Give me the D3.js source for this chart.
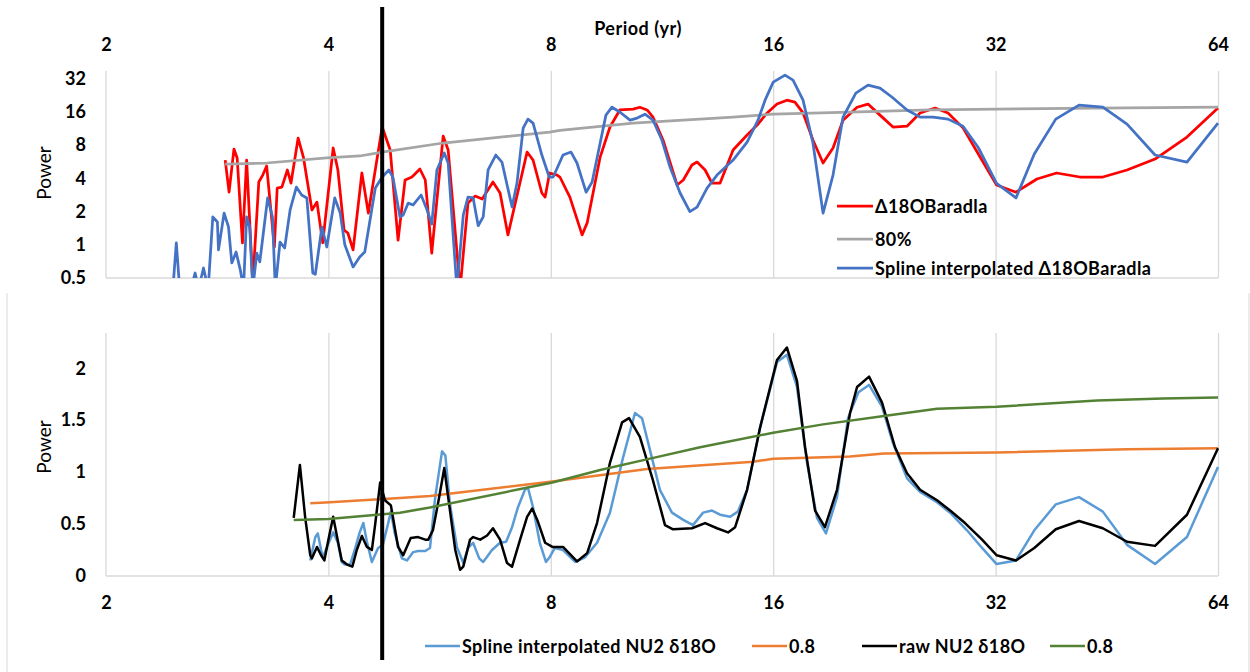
<!DOCTYPE html>
<html>
<head>
<meta charset="utf-8">
<script src="https://cdn.jsdelivr.net/npm/d3@7"></script>
<style>
  body { margin: 0; background: #fff; }
  svg text { font-family: Lato, "Liberation Sans", sans-serif; fill: #000; }
</style>
</head>
<body>
<svg id="chart" width="1250" height="672"></svg>
<script>
// ── Axis ticks ───────────────────────────────────────
const periodTicks = [2, 4, 8, 16, 32, 64];
const topPowerTicks = [0.5, 1, 2, 4, 8, 16, 32];
const bottomPowerTicks = [0, 0.5, 1, 1.5, 2];
const markerPeriod = 4.73;

// ── Top panel: [period (yr), power] ──────────────────
const baradla = [[2.90,5.87],[2.935,3.01],[2.98,7.39],[3.01,6.13],[3.06,1.04],[3.10,5.87],[3.16,0.45],[3.22,3.71],[3.26,4.29],[3.30,5.18],[3.38,0.955],[3.41,3.27],[3.46,3.34],[3.52,4.77],[3.56,3.63],[3.64,9.30],[3.70,6.25],[3.80,2.07],[3.86,2.44],[3.93,1.04],[4.06,7.55],[4.12,4.77],[4.20,1.36],[4.25,1.28],[4.32,0.90],[4.44,4.48],[4.53,1.94],[4.73,11.7],[4.85,7.24],[4.97,1.10],[5.08,3.87],[5.19,4.12],[5.32,4.87],[5.41,3.87],[5.52,0.84],[5.72,9.69],[5.81,7.24],[6.03,0.40],[6.18,2.39],[6.32,2.77],[6.46,2.60],[6.68,3.71],[6.83,2.95],[7.00,1.23],[7.43,6.94],[7.57,5.87],[7.78,2.95],[7.86,2.71],[7.97,4.48],[8.16,4.29],[8.23,4.12],[8.49,2.71],[8.82,1.23],[8.96,1.58],[9.33,6.25],[9.62,11.7],[9.92,16.7],[10.34,17.0],[10.56,17.7],[10.80,16.7],[11.00,14.4],[11.35,8.92],[11.86,3.49],[12.09,3.87],[12.42,5.29],[12.62,5.63],[12.94,4.77],[13.22,3.63],[13.56,3.63],[14.12,7.24],[14.75,9.90],[15.22,12.2],[15.70,15.7],[16.19,18.9],[16.70,20.5],[17.12,19.7],[17.56,15.7],[18.11,8.92],[18.69,5.52],[19.28,7.55],[19.89,13.5],[20.78,17.7],[21.50,18.9],[22.32,15.0],[23.24,11.7],[24.28,11.9],[25.29,15.7],[26.50,17.4],[27.59,15.7],[28.91,11.5],[30.49,6.25],[32.1,3.49],[34.1,3.0],[36.4,3.95],[38.7,4.48],[41.6,4.12],[44.7,4.12],[48.2,4.77],[52.6,6.0],[58.1,9.49],[64,17.4]];

const baradla80 = [[2.90,5.40],[3.30,5.52],[3.98,6.13],[4.41,6.39],[4.73,6.94],[5.72,8.38],[7.97,10.5],[8.23,10.9],[10.34,12.7],[14.12,14.4],[16.0,15.3],[20.33,16.0],[26.1,16.7],[32.1,17.0],[43.9,17.4],[64,17.7]];

const baradlaSpline = [[2.46,0.35],[2.49,1.04],[2.52,0.35],[2.58,0.3],[2.64,0.555],[2.67,0.4],[2.71,0.616],[2.75,0.4],[2.79,1.79],[2.83,1.61],[2.84,0.90],[2.89,1.94],[2.93,1.45],[2.96,0.684],[3.00,0.86],[3.04,0.59],[3.07,0.4],[3.10,1.79],[3.13,1.45],[3.16,0.4],[3.20,0.84],[3.23,0.70],[3.31,2.66],[3.36,1.79],[3.39,0.4],[3.44,1.06],[3.49,0.935],[3.55,2.07],[3.62,3.34],[3.68,2.83],[3.74,2.66],[3.81,0.555],[3.84,0.54],[3.92,1.45],[3.98,0.955],[4.08,2.66],[4.15,1.94],[4.21,1.0],[4.32,0.63],[4.41,0.775],[4.48,0.86],[4.63,3.27],[4.73,4.12],[4.83,4.77],[4.89,4.12],[5.00,1.79],[5.05,1.86],[5.13,2.39],[5.21,2.30],[5.34,2.83],[5.44,2.07],[5.52,1.54],[5.61,4.77],[5.74,6.80],[5.81,5.52],[5.97,0.4],[6.09,1.86],[6.18,2.71],[6.28,2.66],[6.38,1.49],[6.48,1.79],[6.58,4.77],[6.74,6.52],[6.87,5.63],[7.09,2.20],[7.20,3.63],[7.34,11.45],[7.45,13.8],[7.57,12.7],[7.78,6.52],[7.96,4.12],[8.06,4.12],[8.31,6.52],[8.52,6.94],[8.68,5.52],[8.93,3.0],[9.10,3.71],[9.33,8.38],[9.50,15.0],[9.68,17.7],[9.92,16.0],[10.24,13.5],[10.47,14.1],[10.73,15.3],[11.00,13.5],[11.31,8.92],[11.60,5.07],[11.97,2.95],[12.34,2.0],[12.62,2.20],[13.02,3.27],[13.43,4.29],[14.12,5.87],[14.75,8.55],[15.26,13.5],[15.60,20.5],[16.0,29.9],[16.60,34.6],[17.02,31.2],[17.56,20.5],[18.11,8.38],[18.69,1.94],[19.28,4.29],[19.89,14.4],[20.70,23.8],[21.50,28.1],[22.32,26.4],[23.16,21.9],[24.28,16.7],[25.29,14.4],[26.33,14.4],[27.59,13.8],[28.91,11.9],[30.30,7.67],[32.1,3.60],[34.1,2.66],[36.1,6.66],[38.6,13.8],[41.5,18.5],[44.7,17.7],[48.2,12.45],[52.6,6.52],[58.1,5.63],[64,12.7]];

// ── Bottom panel: [period (yr), power] ───────────────
const nu2Spline = [[3.78,0.15],[3.84,0.375],[3.87,0.41],[3.91,0.25],[3.93,0.18],[4.02,0.35],[4.06,0.42],[4.12,0.32],[4.17,0.135],[4.21,0.11],[4.28,0.11],[4.35,0.27],[4.41,0.42],[4.46,0.51],[4.51,0.33],[4.58,0.135],[4.67,0.27],[4.74,0.30],[4.82,0.51],[4.86,0.62],[4.92,0.41],[5.03,0.17],[5.11,0.15],[5.21,0.23],[5.29,0.24],[5.41,0.24],[5.49,0.27],[5.58,0.76],[5.70,1.20],[5.76,1.16],[5.84,0.70],[5.97,0.28],[6.09,0.125],[6.18,0.27],[6.28,0.32],[6.40,0.17],[6.48,0.135],[6.66,0.25],[6.83,0.32],[6.96,0.33],[7.09,0.47],[7.22,0.66],[7.38,0.83],[7.45,0.85],[7.57,0.66],[7.73,0.32],[7.88,0.135],[7.97,0.18],[8.10,0.27],[8.31,0.25],[8.63,0.135],[8.90,0.18],[9.24,0.32],[9.62,0.61],[10.02,1.14],[10.40,1.57],[10.63,1.52],[10.90,1.21],[11.24,0.83],[11.67,0.61],[12.09,0.54],[12.46,0.49],[12.86,0.61],[13.22,0.63],[13.56,0.59],[13.99,0.57],[14.33,0.62],[14.75,0.83],[15.36,1.43],[16.19,2.06],[16.70,2.13],[17.23,1.82],[17.78,1.09],[18.34,0.56],[18.86,0.41],[19.52,0.76],[20.20,1.52],[20.87,1.77],[21.57,1.84],[22.46,1.63],[23.24,1.28],[24.28,0.94],[25.29,0.81],[26.66,0.71],[27.77,0.61],[29.27,0.44],[30.68,0.27],[32.1,0.115],[34.1,0.15],[36.1,0.44],[38.6,0.69],[41.5,0.76],[44.7,0.62],[48.2,0.30],[52.6,0.115],[58.1,0.375],[64,1.05]];

const nu2SplineSig = [[3.78,0.70],[4.02,0.71],[5.0,0.75],[5.49,0.77],[8.04,0.91],[10.8,1.03],[15.04,1.10],[16.0,1.13],[20.33,1.15],[22.6,1.18],[32.1,1.19],[48.2,1.22],[64,1.23]];

const nu2Raw = [[3.59,0.56],[3.66,1.07],[3.72,0.57],[3.78,0.20],[3.80,0.17],[3.86,0.28],[3.91,0.20],[3.95,0.15],[4.00,0.35],[4.06,0.57],[4.11,0.375],[4.17,0.15],[4.24,0.11],[4.31,0.09],[4.37,0.25],[4.44,0.385],[4.51,0.28],[4.58,0.25],[4.63,0.51],[4.70,0.90],[4.77,0.73],[4.86,0.68],[4.97,0.28],[5.05,0.20],[5.17,0.365],[5.29,0.375],[5.41,0.35],[5.46,0.35],[5.54,0.44],[5.65,0.76],[5.74,1.04],[5.81,0.76],[5.94,0.25],[6.03,0.06],[6.09,0.09],[6.22,0.35],[6.28,0.375],[6.42,0.35],[6.56,0.39],[6.68,0.46],[6.83,0.35],[6.98,0.125],[7.09,0.09],[7.27,0.35],[7.43,0.57],[7.55,0.65],[7.67,0.54],[7.86,0.32],[8.04,0.28],[8.31,0.28],[8.68,0.14],[8.96,0.22],[9.24,0.51],[9.62,1.09],[9.99,1.48],[10.21,1.52],[10.56,1.34],[11.00,0.92],[11.42,0.49],[11.71,0.45],[12.42,0.46],[12.94,0.51],[13.43,0.46],[13.90,0.42],[14.21,0.47],[14.75,0.83],[15.36,1.43],[16.19,2.08],[16.70,2.20],[17.23,1.88],[17.67,1.24],[18.23,0.63],[18.80,0.47],[19.52,0.83],[20.33,1.57],[20.78,1.82],[21.57,1.92],[22.46,1.67],[23.39,1.24],[24.28,0.99],[25.29,0.83],[26.66,0.73],[27.77,0.63],[29.09,0.51],[30.68,0.35],[32.1,0.20],[34.1,0.15],[36.1,0.27],[38.6,0.45],[41.5,0.53],[44.7,0.46],[48.2,0.33],[52.6,0.29],[58.1,0.59],[64,1.23]];

const nu2RawSig = [[3.59,0.54],[4.0,0.55],[5.0,0.61],[5.49,0.66],[8.04,0.90],[9.33,1.02],[10.90,1.13],[12.74,1.24],[16.0,1.38],[18.69,1.46],[22.6,1.54],[26.66,1.61],[32.1,1.63],[43.9,1.69],[53.9,1.71],[64,1.72]];

const topSeries = [
  { label: "Δ18OBaradla", data: baradla, color: "#FF0000" },
  { label: "80%", data: baradla80, color: "#A5A5A5" },
  { label: "Spline interpolated Δ18OBaradla", data: baradlaSpline, color: "#4472C4" },
];
const bottomSeries = [
  { label: "Spline interpolated NU2 δ18O", data: nu2Spline, color: "#5B9BD5" },
  { label: "0.8", data: nu2SplineSig, color: "#ED7D31" },
  { label: "raw NU2 δ18O", data: nu2Raw, color: "#000000" },
  { label: "0.8", data: nu2RawSig, color: "#548235" },
];

// ── Scales ───────────────────────────────────────────
const svg = d3.select("#chart");
const x = d3.scaleLog().base(2).domain([2, 64]).range([106, 1218]);
const yTop = d3.scaleLog().base(2).domain([0.5, 37.7]).range([278, 71]);
const yBot = d3.scaleLinear().domain([0, 2.34]).range([576, 333]);

const gridCol = "#D9D9D9";

function styleAxis(g, size, weight) {
  g.select(".domain").remove();
  g.selectAll("text").attr("font-size", size).attr("font-weight", weight).attr("fill", "#000");
}

// ── Top panel ────────────────────────────────────────
svg.append("g").attr("transform", "translate(0,278)")
  .call(d3.axisBottom(x).tickValues(periodTicks.slice(1)).tickSize(-207).tickFormat(""))
  .call(g => g.select(".domain").remove())
  .call(g => g.selectAll("line").attr("stroke", gridCol).attr("stroke-width", 1.3));

svg.append("line").attr("x1", x(2)).attr("x2", x(2)).attr("y1", 71).attr("y2", 278)
  .attr("stroke", gridCol).attr("stroke-width", 1.3);
svg.append("line").attr("x1", x(2)).attr("x2", x(64)).attr("y1", 278).attr("y2", 278)
  .attr("stroke", gridCol).attr("stroke-width", 1.5);

svg.append("g").attr("transform", "translate(0,71)")
  .call(d3.axisTop(x).tickValues(periodTicks).tickSize(0).tickPadding(20).tickFormat(d3.format("d")))
  .call(g => styleAxis(g, 18, "bold"));

svg.append("g").attr("transform", "translate(106,0)")
  .call(d3.axisLeft(yTop).tickValues(topPowerTicks).tickSize(0).tickPadding(20).tickFormat(d => d))
  .call(g => styleAxis(g, 18, "bold"));

svg.append("text").attr("x", 638).attr("y", 28).attr("text-anchor", "middle")
  .attr("dominant-baseline", "central").attr("font-size", 18).attr("font-weight", "bold")
  .attr("letter-spacing", 0.5).text("Period (yr)");

svg.append("text").attr("transform", "translate(43,173) rotate(-90)").attr("text-anchor", "middle")
  .attr("dominant-baseline", "central").attr("font-size", 19).text("Power");

svg.append("clipPath").attr("id", "clip-top")
  .append("rect").attr("x", 106).attr("y", 60).attr("width", 1114).attr("height", 218);

const topLine = d3.line().x(d => x(d[0])).y(d => yTop(d[1]));
topSeries.forEach(s => {
  svg.append("path").datum(s.data)
    .attr("clip-path", "url(#clip-top)")
    .attr("fill", "none").attr("stroke", s.color).attr("stroke-width", 2.75)
    .attr("stroke-linejoin", "round").attr("d", topLine);
});

const topLegendY = [206, 239, 268];
topSeries.forEach((s, i) => {
  svg.append("line").attr("x1", 837).attr("x2", 873).attr("y1", topLegendY[i]).attr("y2", topLegendY[i])
    .attr("stroke", s.color).attr("stroke-width", 2.75);
  svg.append("text").attr("x", 875).attr("y", topLegendY[i]).attr("dominant-baseline", "central")
    .attr("font-size", 18).attr("font-weight", "bold").attr("letter-spacing", 0.4).text(s.label);
});

// ── Bottom panel ─────────────────────────────────────
[7, 1249].forEach(bx => {
  svg.append("line").attr("x1", bx).attr("x2", bx).attr("y1", 293).attr("y2", 672)
    .attr("stroke", gridCol).attr("stroke-width", 1);
});

svg.append("g").attr("transform", "translate(0,576)")
  .call(d3.axisBottom(x).tickValues(periodTicks.slice(1)).tickSize(-243).tickFormat(""))
  .call(g => g.select(".domain").remove())
  .call(g => g.selectAll("line").attr("stroke", gridCol).attr("stroke-width", 1.3));

svg.append("line").attr("x1", x(2)).attr("x2", x(2)).attr("y1", 333).attr("y2", 576)
  .attr("stroke", gridCol).attr("stroke-width", 1.3);
svg.append("line").attr("x1", x(2)).attr("x2", x(64)).attr("y1", 576).attr("y2", 576)
  .attr("stroke", gridCol).attr("stroke-width", 1.5);

svg.append("g").attr("transform", "translate(0,576)")
  .call(d3.axisBottom(x).tickValues(periodTicks).tickSize(0).tickPadding(20).tickFormat(d3.format("d")))
  .call(g => styleAxis(g, 18, "bold"));

svg.append("g").attr("transform", "translate(106,0)")
  .call(d3.axisLeft(yBot).tickValues(bottomPowerTicks).tickSize(0).tickPadding(20).tickFormat(d => d))
  .call(g => styleAxis(g, 18, "bold"));

svg.append("text").attr("transform", "translate(43,447) rotate(-90)").attr("text-anchor", "middle")
  .attr("dominant-baseline", "central").attr("font-size", 19).text("Power");

const botLine = d3.line().x(d => x(d[0])).y(d => yBot(d[1]));
bottomSeries.forEach(s => {
  svg.append("path").datum(s.data)
    .attr("fill", "none").attr("stroke", s.color).attr("stroke-width", 2.5)
    .attr("stroke-linejoin", "round").attr("d", botLine);
});

const bottomLegendX = [425, 752, 862, 1050];
bottomSeries.forEach((s, i) => {
  const lx = bottomLegendX[i];
  svg.append("line").attr("x1", lx).attr("x2", lx + 35).attr("y1", 646).attr("y2", 646)
    .attr("stroke", s.color).attr("stroke-width", 2.5);
  svg.append("text").attr("x", lx + 37).attr("y", 646).attr("dominant-baseline", "central")
    .attr("font-size", 18).attr("font-weight", "bold").attr("letter-spacing", 0.4).text(s.label);
});

// ── Vertical marker ──────────────────────────────────
svg.append("line").attr("x1", x(markerPeriod)).attr("x2", x(markerPeriod))
  .attr("y1", 7).attr("y2", 660).attr("stroke", "#000").attr("stroke-width", 4);
</script>
</body>
</html>
